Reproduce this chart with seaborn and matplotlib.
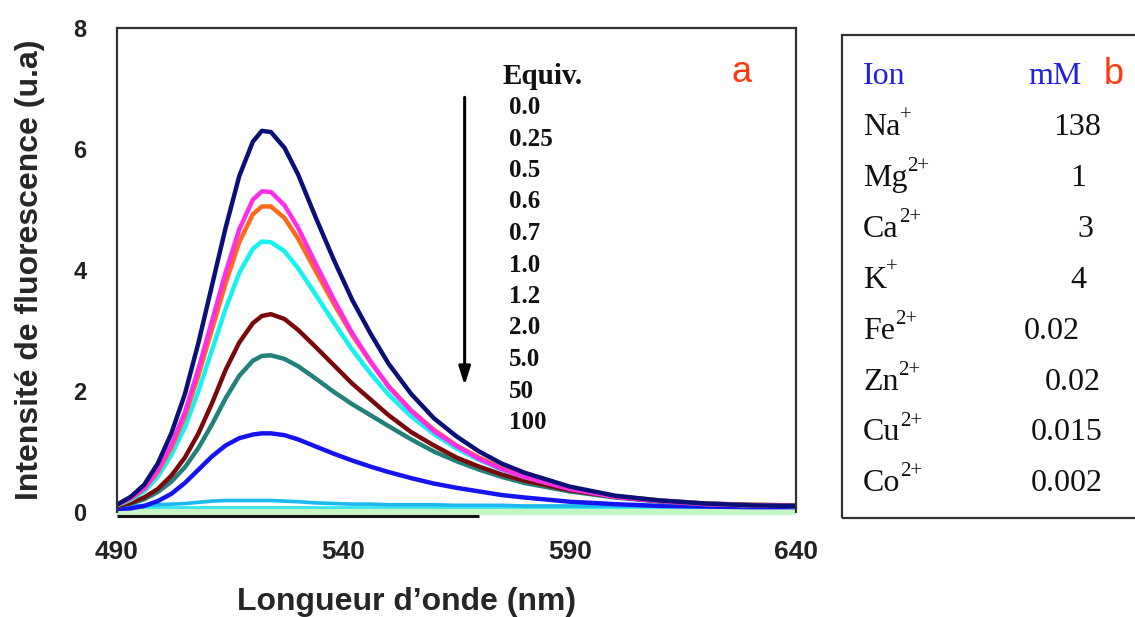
import matplotlib
matplotlib.use("Agg")
import matplotlib.pyplot as plt
import matplotlib.patches as mpatches
import numpy as np
import pandas as pd
import seaborn as sns

# wavelengths (nm) shared by every spectrum
wavelength = [490, 493, 496, 499, 502, 505, 508, 511, 514, 517, 520, 522, 524, 527, 530,
              534, 538, 542, 546, 550, 555, 560, 565, 570, 575, 580, 590, 600, 610, 620, 630, 640]

equiv_labels = ["0.0", "0.25", "0.5", "0.6", "0.7", "1.0", "1.2", "2.0", "5.0", "50", "100"]

eq_0_0 = [0.12, 0.25, 0.45, 0.80, 1.30, 1.95, 2.80, 3.75, 4.70, 5.55, 6.12, 6.30, 6.28, 6.02, 5.58,
          4.85, 4.15, 3.50, 2.95, 2.45, 1.95, 1.55, 1.25, 1.00, 0.80, 0.65, 0.42, 0.27, 0.19, 0.14, 0.11, 0.10]
eq_0_25 = [0.12, 0.23, 0.39, 0.69, 1.11, 1.65, 2.37, 3.16, 3.96, 4.67, 5.16, 5.30, 5.29, 5.07, 4.70,
           4.09, 3.50, 2.95, 2.49, 2.07, 1.67, 1.34, 1.09, 0.88, 0.71, 0.58, 0.38, 0.25, 0.18, 0.13, 0.11, 0.10]
eq_0_5 = [0.12, 0.22, 0.38, 0.66, 1.06, 1.58, 2.26, 3.02, 3.78, 4.46, 4.92, 5.05, 5.05, 4.86, 4.52,
          3.97, 3.43, 2.92, 2.48, 2.08, 1.68, 1.36, 1.10, 0.90, 0.73, 0.60, 0.40, 0.26, 0.19, 0.14, 0.11, 0.10]
eq_0_6 = [0.11, 0.20, 0.34, 0.58, 0.94, 1.40, 2.00, 2.68, 3.36, 3.95, 4.35, 4.47, 4.46, 4.31, 4.03,
          3.58, 3.12, 2.68, 2.29, 1.94, 1.58, 1.29, 1.05, 0.86, 0.70, 0.58, 0.39, 0.26, 0.19, 0.14, 0.11, 0.10]
eq_0_7 = [0.10, 0.15, 0.24, 0.38, 0.60, 0.90, 1.30, 1.80, 2.35, 2.80, 3.12, 3.24, 3.27, 3.19, 3.01,
          2.72, 2.42, 2.12, 1.86, 1.60, 1.32, 1.10, 0.90, 0.75, 0.62, 0.52, 0.36, 0.25, 0.18, 0.14, 0.12, 0.11]
eq_1_0 = [0.10, 0.14, 0.21, 0.33, 0.50, 0.74, 1.06, 1.45, 1.88, 2.25, 2.50, 2.58, 2.59, 2.53, 2.41,
          2.20, 1.98, 1.78, 1.60, 1.42, 1.20, 1.00, 0.84, 0.70, 0.58, 0.48, 0.34, 0.24, 0.17, 0.13, 0.11, 0.10]
eq_1_2 = [0.05, 0.06, 0.10, 0.18, 0.30, 0.48, 0.70, 0.92, 1.10, 1.22, 1.28, 1.30, 1.30, 1.27, 1.20,
          1.08, 0.96, 0.85, 0.75, 0.66, 0.56, 0.47, 0.40, 0.34, 0.28, 0.24, 0.17, 0.13, 0.10, 0.09, 0.08, 0.08]
eq_2_0 = [0.10, 0.10, 0.11, 0.12, 0.13, 0.14, 0.16, 0.18, 0.19, 0.19, 0.19, 0.19, 0.19, 0.18, 0.17,
          0.15, 0.14, 0.13, 0.13, 0.12, 0.12, 0.12, 0.11, 0.11, 0.11, 0.10, 0.10, 0.10, 0.10, 0.10, 0.10, 0.10]
eq_5_0 = [-0.06, -0.06, -0.06, -0.06, -0.06, -0.06, -0.06, -0.06, -0.06, -0.06, -0.06, -0.06, -0.06, -0.06, -0.06,
          -0.06, -0.06, -0.06, -0.06, -0.06, -0.06, -0.06, -0.06, -0.06, np.nan, np.nan, np.nan, np.nan, np.nan, np.nan, np.nan, np.nan]
eq_50 = [0.08, 0.08, 0.08, 0.08, 0.08, 0.08, 0.08, 0.08, 0.08, 0.08, 0.08, 0.08, 0.08, 0.08, 0.08,
         0.08, 0.08, 0.08, 0.08, 0.08, 0.08, 0.08, 0.08, 0.08, 0.08, 0.08, 0.08, 0.08, 0.08, 0.08, 0.08, 0.08]
eq_100 = [0.01, 0.01, 0.01, 0.01, 0.01, 0.01, 0.01, 0.01, 0.01, 0.01, 0.01, 0.01, 0.01, 0.01, 0.01,
          0.01, 0.01, 0.01, 0.01, 0.01, 0.01, 0.01, 0.01, 0.01, 0.01, 0.01, 0.01, 0.01, 0.01, 0.01, 0.01, 0.01]

series = [eq_0_0, eq_0_25, eq_0_5, eq_0_6, eq_0_7, eq_1_0, eq_1_2, eq_2_0, eq_5_0, eq_50, eq_100]
colors = ["#0B1078", "#FF2EE6", "#FF6A1A", "#16F2F0", "#7A0A0A", "#23807A", "#1414F0",
          "#1CB8F0", "#111111", "#36E6F2", "#C6F5C4"]
widths = [3.2, 3.2, 3.2, 3.2, 3.2, 3.2, 3.2, 2.6, 2.2, 2.0, 6.0]
draw_order = [10, 8, 9, 7, 6, 5, 4, 3, 2, 1, 0]

ion_names = ["Na", "Mg", "Ca", "K", "Fe", "Zn", "Cu", "Co"]
ion_charges = ["+", "2+", "2+", "+", "2+", "2+", "2+", "2+"]
conc_mM = ["138", "1", "3", "4", "0.02", "0.02", "0.015", "0.002"]

W, H = 1135, 617
fig = plt.figure(figsize=(W / 100, H / 100), dpi=100)
sns.set_style("white")
plt.rcParams["font.family"] = ["Liberation Sans", "DejaVu Sans"]

ax = fig.add_axes([117 / W, 1 - 512 / H, (796 - 117) / W, (512 - 28) / H])

df = pd.DataFrame({
    "wl": np.tile(wavelength, len(series)),
    "val": np.concatenate([np.array(s, dtype=float) for s in series]),
    "equiv": np.repeat(equiv_labels, len(wavelength)),
})

for i in draw_order:
    sub = df[df["equiv"] == equiv_labels[i]]
    sns.lineplot(data=sub, x="wl", y="val", ax=ax, color=colors[i], linewidth=widths[i],
                 sort=False, estimator=None, legend=False, clip_on=False,
                 solid_capstyle="butt", solid_joinstyle="round")

ax.set_xlim(490, 640)
ax.set_ylim(0, 8)
ax.set_xticks([490, 540, 590, 640])
ax.set_xticks(np.arange(490, 641, 10), minor=True)
ax.set_yticks([0, 2, 4, 6, 8])
ax.tick_params(axis="both", direction="in", length=6, width=1.2, color="#222222")
ax.tick_params(axis="x", which="minor", direction="in", length=3, width=1.0)
ax.tick_params(axis="x", pad=20, labelsize=19)
ax.tick_params(axis="y", pad=22, labelsize=17)
for lab in ax.get_xticklabels() + ax.get_yticklabels():
    lab.set_fontweight("bold")
    lab.set_color("#222222")

for side in ["left", "top", "right"]:
    ax.spines[side].set_color("#333333")
    ax.spines[side].set_linewidth(1.6)
ax.spines["bottom"].set_visible(False)

ax.set_xlabel("Longueur d’onde (nm)", fontsize=23, fontweight="bold")
ax.xaxis.set_label_coords(0.427, -0.155)
ax.set_ylabel("Intensité de fluorescence (u.a)", fontsize=23, fontweight="bold", labelpad=20)
ax.grid(False)


def fx(px):
    return px / W


def fy(py):
    return 1 - py / H


# Equiv. column and arrow
fig.text(fx(503), fy(84), "Equiv.", family="Liberation Serif", fontweight="bold",
         fontsize=21, color="#111111", va="baseline", ha="left")
for k, lab in enumerate(equiv_labels):
    fig.text(fx(509), fy(114 + 31.5 * k), lab, family="Liberation Serif", fontweight="bold",
             fontsize=18, color="#111111", va="baseline", ha="left")

ax.annotate("", xy=(566.8, 2.05), xytext=(566.8, 6.9),
            arrowprops=dict(arrowstyle="-|>,head_length=1.1,head_width=0.35",
                            color="black", lw=2.2))

fig.text(fx(742), fy(82), "a", color="#FF3A10", fontsize=26, ha="center", va="baseline")

# panel b : ion table
rect = mpatches.Rectangle((fx(842), fy(518)), fx(1145) - fx(842), fy(35) - fy(518),
                          transform=fig.transFigure, fill=False, edgecolor="#333333",
                          linewidth=1.6, clip_on=False)
fig.patches.append(rect)

fig.text(fx(863), fy(84), "Ion", family="Liberation Serif", fontsize=23, color="#2020E0",
         va="baseline", ha="left")
fig.text(fx(1055), fy(84), "mM", family="Liberation Serif", fontsize=23, color="#2020E0",
         va="baseline", ha="center")
fig.text(fx(1114), fy(84), "b", color="#FF3A10", fontsize=26, ha="center", va="baseline")

value_x = [1077, 1078, 1085, 1078, 1052, 1073, 1067, 1067]
for k, (name, charge, c) in enumerate(zip(ion_names, ion_charges, conc_mM)):
    yb = 135 + 50.9 * k
    t = fig.text(fx(863), fy(yb), name, family="Liberation Serif",
                 fontsize=23, color="#111111", va="baseline", ha="left")
    ax.annotate(charge, xy=(1.0, 0.58), xycoords=t, family="Liberation Serif", fontsize=15,
                color="#111111", va="bottom", ha="left", annotation_clip=False)
    fig.text(fx(value_x[k]), fy(yb), c, family="Liberation Serif", fontsize=23,
             color="#111111", va="baseline", ha="center")

fig.savefig("out.png", dpi=100)
